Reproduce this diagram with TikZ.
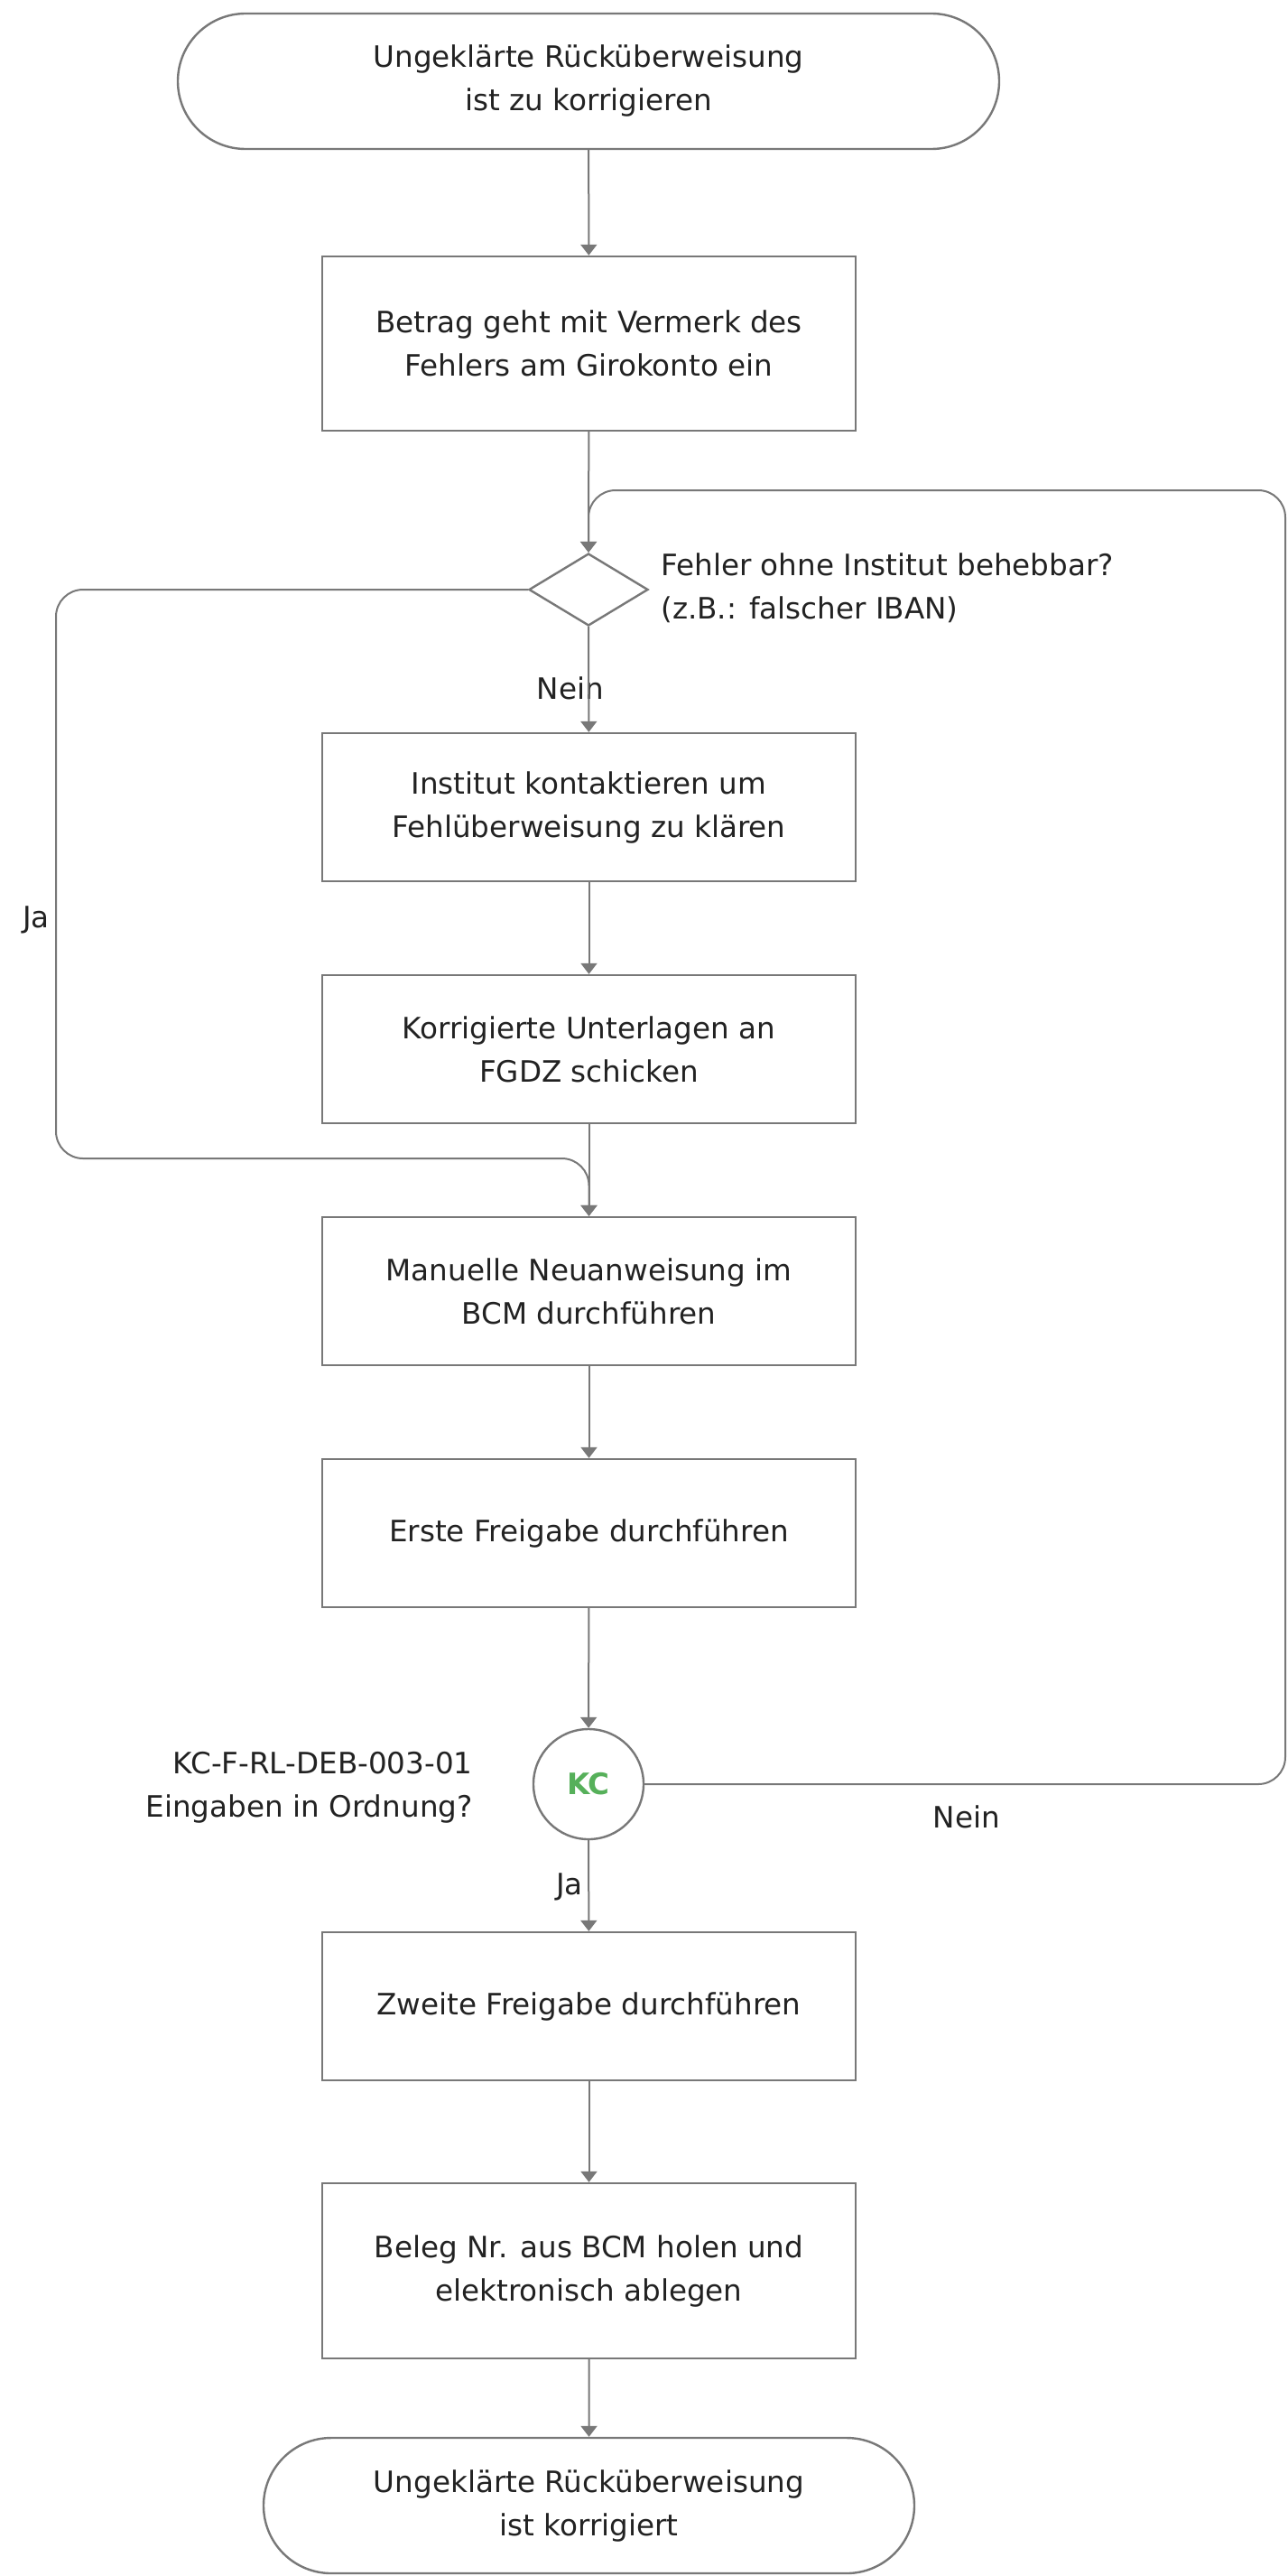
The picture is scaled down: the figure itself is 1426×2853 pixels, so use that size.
\documentclass[tikz,border=0pt]{standalone}
\usepackage{fontspec}
\setmainfont{DejaVu Sans}
\usetikzlibrary{shapes.geometric,shapes.misc,arrows.meta}
\definecolor{lc}{RGB}{120,120,120}
\definecolor{tc}{RGB}{34,34,34}
\definecolor{kcg}{RGB}{86,176,90}
\tikzset{
  base/.style={draw=lc, line width=1.2pt, fill=white, text=tc,
    font=\fontsize{16.3}{24}\selectfont, align=center, inner sep=0pt},
  procbox/.style={base, rectangle, minimum width=295.5pt, minimum height=82pt},
  termbox/.style={base, rounded rectangle, minimum height=75pt},
  decbox/.style={base, diamond, minimum width=66pt, minimum height=40pt},
  kcnode/.style={base, circle, minimum size=61pt, text=kcg,
    font=\fontsize{16.3}{24}\selectfont\bfseries},
  conn/.style={draw=lc, line width=1pt, -{Triangle[length=6pt,width=9pt]}},
  lbl/.style={text=tc, font=\fontsize{16.3}{24}\selectfont, inner sep=0pt}
}
\begin{document}
\begin{tikzpicture}[x=0.5pt,y=-0.5pt]
\fill[white] (0,0) rectangle (1426,2853);
\useasboundingbox (0,0) rectangle (1426,2853);

% nodes
\node[termbox, minimum width=455pt] (t1) at (652,90) {Ungeklärte Rücküberweisung\\ist zu korrigieren};
\node[procbox, minimum height=96.5pt] (b1) at (652.5,380.5) {Betrag geht mit Vermerk des\\Fehlers am Girokonto ein};
\node[decbox] (d1) at (652,653) {};
\node[procbox] (b2) at (652.5,894) {Institut kontaktieren um\\Fehlüberweisung zu klären};
\node[procbox] (b3) at (652.5,1162) {Korrigierte Unterlagen an\\FGDZ schicken};
\node[procbox] (b4) at (652.5,1430) {Manuelle Neuanweisung im\\BCM durchführen};
\node[procbox] (b5) at (652.5,1698) {Erste Freigabe durchführen};
\node[kcnode] (kc) at (652,1976) {KC};
\node[procbox] (b6) at (652.5,2222) {Zweite Freigabe durchführen};
\node[procbox, minimum height=97pt] (b7) at (652.5,2515) {Beleg Nr. aus BCM holen und\\elektronisch ablegen};
\node[termbox, minimum width=360.5pt] (t2) at (652.5,2775) {Ungeklärte Rücküberweisung\\ist korrigiert};

% labels
\node[lbl, anchor=west, align=left] (q1) at (732,651) {Fehler ohne Institut behebbar?\\(z.B.: falscher IBAN)};
\node[lbl, anchor=east, align=right] (q2) at (524,1980) {KC-F-RL-DEB-003-01\\Eingaben in Ordnung?};
\node[lbl] (nein1) at (632,762) {Nein};
\node[lbl] (ja1) at (40,1019) {Ja};
\node[lbl] (ja2) at (631,2090) {Ja};
\node[lbl] (nein2) at (1071,2012) {Nein};

% coordinates for bends
\coordinate (jl1) at (62,653);
\coordinate (jl2) at (62,1283);
\coordinate (jr) at (652.5,1283);
\coordinate (nr1) at (1424,1976);
\coordinate (nr2) at (1424,543);
\coordinate (nl) at (652,543);

% connectors
\draw[conn] (t1) -- (b1);
\draw[conn] (b1) -- (d1);
\draw[conn] (d1) -- (b2);
\draw[conn] (b2) -- (b3);
\draw[conn] (b3) -- (b4);
\draw[conn] (b4) -- (b5);
\draw[conn] (b5) -- (kc);
\draw[conn] (kc) -- (b6);
\draw[conn] (b6) -- (b7);
\draw[conn] (b7) -- (t2);
\draw[conn, rounded corners=15pt] (d1.west) -- (jl1) -- (jl2) -- (jr) -- (b4.north);
\draw[conn, rounded corners=15pt] (kc.east) -- (nr1) -- (nr2) -- (nl) -- (d1.north);
\end{tikzpicture}
\end{document}
